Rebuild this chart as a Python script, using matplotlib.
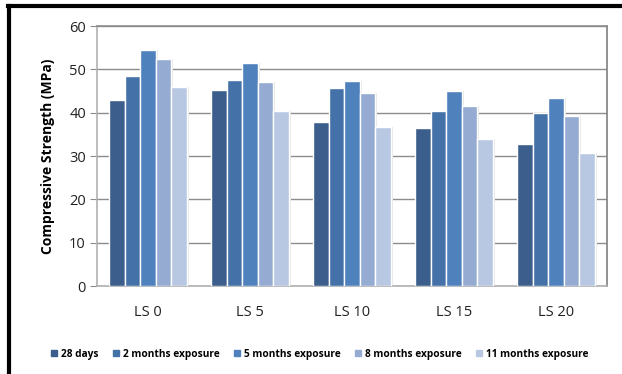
import numpy as np
import matplotlib.pyplot as plt
from matplotlib.lines import Line2D

plt.rcParams['font.family'] = ['Open Sans', 'DejaVu Sans']

# Datos de resistencia a compresión
mezclas = ['LS 0', 'LS 5', 'LS 10', 'LS 15', 'LS 20']
series = ['28 days', '2 months exposure', '5 months exposure',
          '8 months exposure', '11 months exposure']
dias28 = [42.9, 45.2, 37.8, 36.5, 32.8]
meses2 = [48.5, 47.5, 45.8, 40.4, 39.9]
meses5 = [54.5, 51.5, 47.3, 45.0, 43.4]
meses8 = [52.4, 47.1, 44.6, 41.5, 39.3]
meses11 = [45.9, 40.5, 36.7, 34.0, 30.7]
valores = [dias28, meses2, meses5, meses8, meses11]
colores = ['#3B5E8C', '#4472A8', '#4F81BD', '#95ABD2', '#B9C8E2']

fig = plt.figure(figsize=(6.22, 3.74), dpi=100)
ax = fig.add_axes([97/622, 1 - 286/374, 510/622, 260/374])

x = np.arange(len(mezclas))
ancho = 0.152
for i, (v, c) in enumerate(zip(valores, colores)):
    pos = x + (i - 2) * ancho
    # sombra suave a la derecha de cada barra
    ax.bar(pos + 0.018, v, ancho, color='#E6E6E6', zorder=2)
    ax.bar(pos, v, ancho, color=c, edgecolor='white', linewidth=1.0,
           label=series[i], zorder=3)

ax.set_xlim(-0.5, len(mezclas) - 0.5)
ax.set_ylim(0, 60)
ax.set_yticks(range(0, 61, 10))
ax.set_xticks(x)
ax.set_xticklabels(mezclas)
ax.yaxis.grid(True, color='#8C8C8C', linewidth=1.0, zorder=0)
ax.set_axisbelow(True)
ax.tick_params(axis='y', length=5, color='#8C8C8C', labelsize=10.5,
               labelcolor='#222222', pad=3)
ax.tick_params(axis='x', length=0, labelsize=10.5, labelcolor='#222222', pad=14)
ax.spines['left'].set_color('#B0B0B0')
ax.spines['bottom'].set_color('#B0B0B0')
ax.spines['top'].set_color('#8C8C8C')
ax.spines['right'].set_color('#7F7F7F')
for s in ax.spines.values():
    s.set_linewidth(1.2)
ax.set_ylabel('Compressive Strength (MPa)', fontsize=10, fontweight='bold',
              labelpad=10)

# Leyenda con marcadores cuadrados
handles = [Line2D([], [], marker='s', linestyle='', markersize=5,
                  markerfacecolor=c, markeredgecolor=c) for c in colores]
fig.legend(handles, series, loc='center', bbox_to_anchor=(320/622, 1 - 354/374),
           ncol=5, frameon=False, handlelength=0.6,
           handletextpad=0.4, columnspacing=1.4,
           prop={'weight': 'bold', 'size': 7.3})

# Marco exterior
fig.add_artist(Line2D([8/622, 1], [1 - 5.5/374, 1 - 5.5/374], color='black',
                      linewidth=3, transform=fig.transFigure))
fig.add_artist(Line2D([8.5/622, 8.5/622], [0, 1 - 5.5/374], color='black',
                      linewidth=3, transform=fig.transFigure))

fig.savefig('out.png', dpi=100)
